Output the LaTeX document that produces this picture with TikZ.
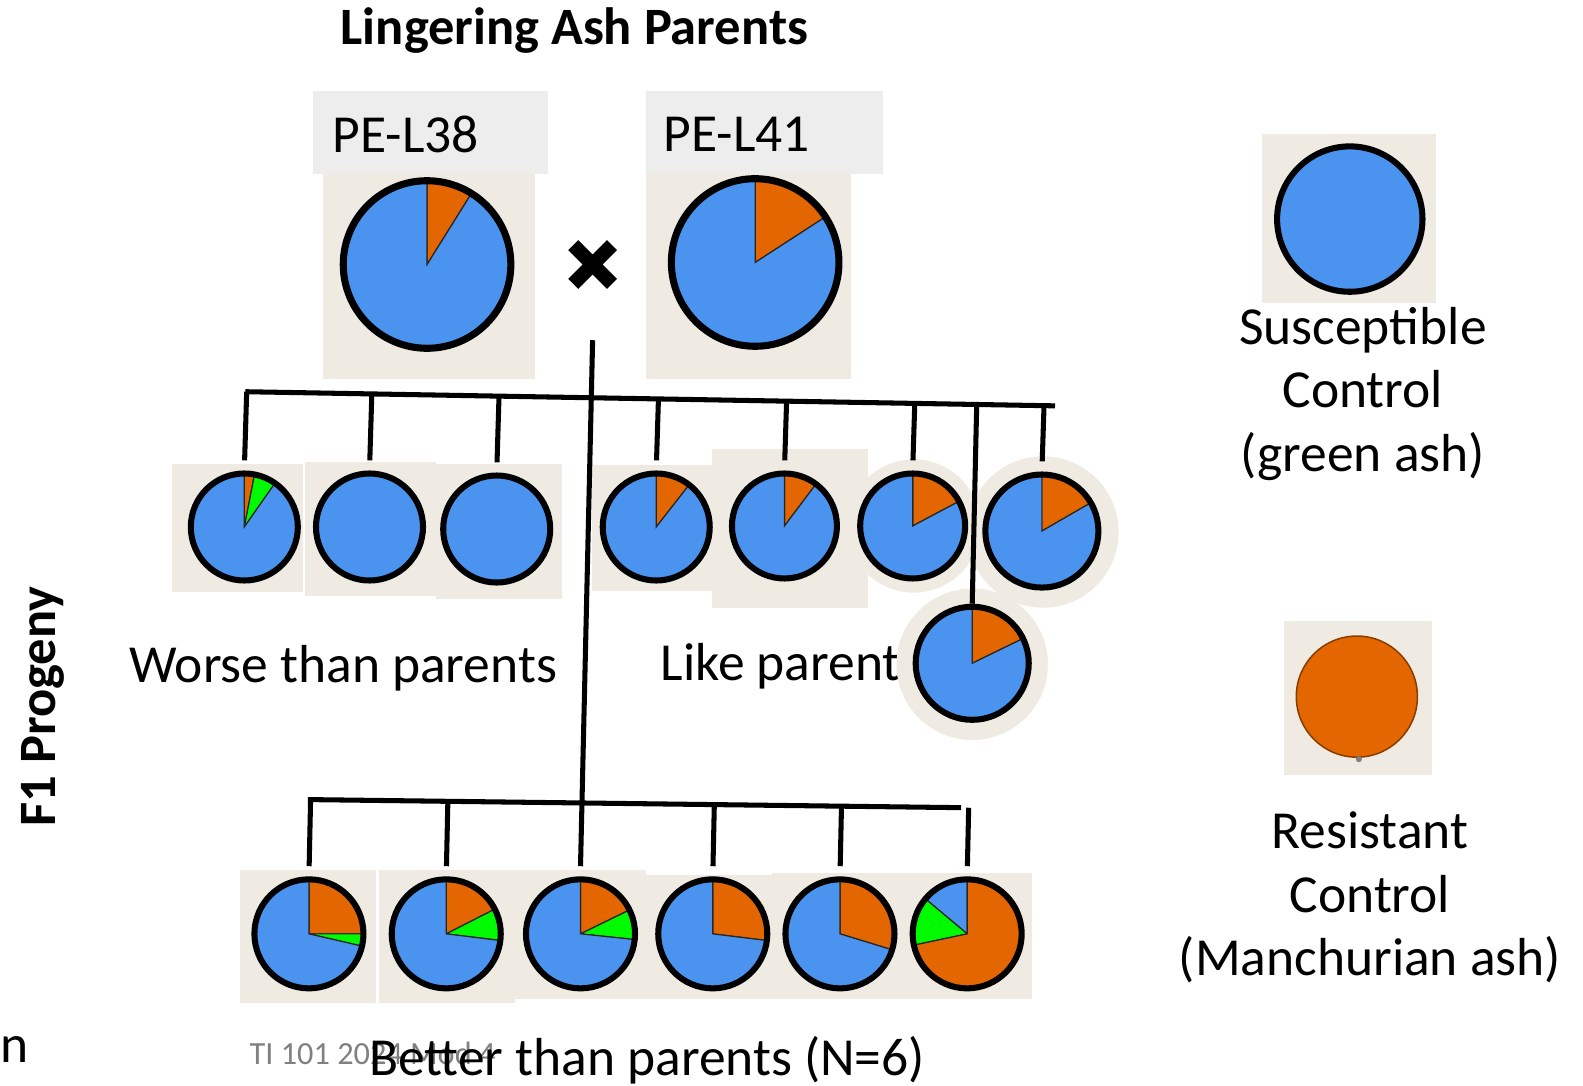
\documentclass[tikz,border=0pt]{standalone}
\usepackage{fontspec}
\setmainfont{Carlito}
\usetikzlibrary{calc}

\definecolor{ashblue}{RGB}{74,148,240}
\definecolor{ashorange}{RGB}{227,102,0}
\definecolor{ashgreen}{RGB}{0,250,0}
\definecolor{ashbg}{RGB}{239,235,226}
\definecolor{labelgray}{RGB}{237,237,237}

\tikzset{
  trunk/.style={line width=5pt},
  drop/.style={line width=5pt, shorten >=10pt},
  slice/.style={draw=black!85, line width=1.2pt},
  rim/.style={circle, draw, inner sep=0pt, line width=#1},
  rim/.default=6pt,
  plaintext/.style={font=\fontsize{53}{63}\selectfont},
  bigtext/.style={font=\fontsize{53}{63}\selectfont, align=center},
  boldtext/.style={font=\bfseries\fontsize{52}{60}\selectfont},
}

% pie: [rim width]{name}{centre}{radius}{start/end/colour list}
\newcommand{\ashpie}[5][6pt]{%
  \foreach \s/\e/\col in {#5}
    \filldraw[slice, fill=\col] (#3) -- ++(\s:#4) arc[start angle=\s, end angle=\e, radius=#4] -- cycle;
  \node[rim=#1, minimum size=2*#4] (#2) at (#3) {};
}

\begin{document}
\begin{tikzpicture}[x=1pt, y=1pt]
    \useasboundingbox (0,0) rectangle (1568,-1075);

    % Title
    \node[boldtext] (title) at (569,-30) {Lingering Ash Parents};

    % Parent cards
    \fill[labelgray] (310,-90) rectangle (543,-172);
    \fill[labelgray] (640,-90) rectangle (875,-172);
    \fill[ashbg] (320,-172) rectangle (530,-375);
    \fill[ashbg] (640,-172) rectangle (843,-375);
    \node[plaintext, anchor=west] (l38) at (326,-133) {PE-L38};
    \node[plaintext, anchor=west] (l41) at (654,-133) {PE-L41};

    \ashpie[7pt]{p38}{423,-262}{83}{58/90/ashorange, 90/418/ashblue}
    \ashpie[7pt]{p41}{748,-260}{83}{33/90/ashorange, 90/393/ashblue}

    % Cross
    \node[minimum size=38, inner sep=0pt] (cross) at (587,-262) {};
    \draw[line width=14pt] (cross.north west) -- (cross.south east)
                           (cross.north east) -- (cross.south west);

    % Progeny backgrounds
    \fill[ashbg] (170,-460) rectangle (300,-586);
    \fill[ashbg] (302,-458) rectangle (432,-590);
    \fill[ashbg] (432,-460) rectangle (557,-593);
    \fill[ashbg] (586,-461) rectangle (705,-585);
    \fill[ashbg] (705,-445) rectangle (860,-602);
    \fill[ashbg] (905,-521) circle (66);
    \fill[ashbg] (1033,-527) circle (75);

    \fill[ashbg] (238,-862) rectangle (372,-993);
    \fill[ashbg] (375,-862) rectangle (510,-993);
    \fill[ashbg] (510,-862) rectangle (640,-990);
    \fill[ashbg] (640,-867) rectangle (765,-990);
    \fill[ashbg] (765,-865) rectangle (895,-990);
    \fill[ashbg] (895,-865) rectangle (1022,-990);

    % Group labels
    \node[plaintext] (worse) at (340,-662) {Worse than parents};
    \node[plaintext, anchor=west] (like) at (651,-660) {Like parents};
    \fill[ashbg] (963,-658) circle (75);

    % First row of progeny
    \ashpie{c1}{242,-522}{53}{79/90/ashorange, 55/79/ashgreen, 90/415/ashblue}
    \node[rim, fill=ashblue, minimum size=106] (c2) at (366,-522) {};
    \node[rim, fill=ashblue, minimum size=106] (c3) at (492,-524) {};
    \ashpie{c4}{650,-522}{53}{52/90/ashorange, 90/412/ashblue}
    \ashpie{c5}{777,-521}{52}{53/90/ashorange, 90/413/ashblue}
    \ashpie{c6}{904,-521}{52}{28/90/ashorange, 90/388/ashblue}
    \ashpie{c7}{1032,-526}{56}{30/90/ashorange, 90/390/ashblue}
    \ashpie{c8}{963,-657}{56}{26/90/ashorange, 90/386/ashblue}

    % Second row of progeny
    \ashpie{b1}{306,-925}{54}{0/90/ashorange, -13/0/ashgreen, 90/347/ashblue}
    \ashpie{b2}{442,-925}{54}{27/90/ashorange, -7/27/ashgreen, 90/353/ashblue}
    \ashpie{b3}{575,-925}{54}{26/90/ashorange, -6/26/ashgreen, 90/354/ashblue}
    \ashpie{b4}{706,-925}{54}{-7/90/ashorange, 90/353/ashblue}
    \ashpie{b5}{832,-925}{54}{-17/90/ashorange, 90/343/ashblue}
    \ashpie{b6}{958,-925}{54}{90/140/ashblue, 140/192/ashgreen, 192/450/ashorange}

    % Family tree
    \coordinate (stem) at (587,-337);
    \coordinate (tl) at (243,-388);
    \coordinate (tr) at (1045,-402);
    \coordinate (bl) at (305,-792);
    \coordinate (br) at (952,-800);
    \draw[trunk] (tl) -- (tr);
    \draw[trunk] (bl) -- (br);
    \draw[trunk] (stem) -- ([yshift=10]b3.north);
    \foreach \p in {c1,c2,c3,c4,c5,c6,c7}
      \draw[drop] ($(tl)!(\p)!(tr)$) -- (\p.north);
    \draw[trunk] ($(tl)!(c8)!(tr)$) -- (c8.north);
    \foreach \p in {b1,b2,b4,b5,b6}
      \draw[drop] ($(bl)!(\p)!(br)$) -- (\p.north);

    % Side and bottom labels
    \node[boldtext, rotate=90] (f1) at (42,-700) {F1 Progeny};
    \node[plaintext] (n) at (14,-1040) {n};
    \node[text=gray, font=\fontsize{32}{38}\selectfont] (footer) at (369,-1043) {TI 101 2024 Mod 4};
    \node[plaintext] (better) at (641,-1050) {Better than parents (N=6)};

    % Legend
    \fill[ashbg] (1250,-133) rectangle (1422,-300);
    \node[rim, fill=ashblue, minimum size=144] (sus) at (1337,-217) {};
    \node[bigtext] (sustext) at (1350,-390) {Susceptible\\Control\\(green ash)};

    \fill[ashbg] (1272,-615) rectangle (1418,-768);
    \node[circle, fill=ashorange, draw=ashorange!60!black, line width=1.5pt, minimum size=120, inner sep=0pt] (res) at (1344,-690) {};
    \fill[gray] (1346,-752) circle (3);
    \node[bigtext] (restext) at (1357,-889) {Resistant\\Control\\(Manchurian ash)};

\end{tikzpicture}
\end{document}
